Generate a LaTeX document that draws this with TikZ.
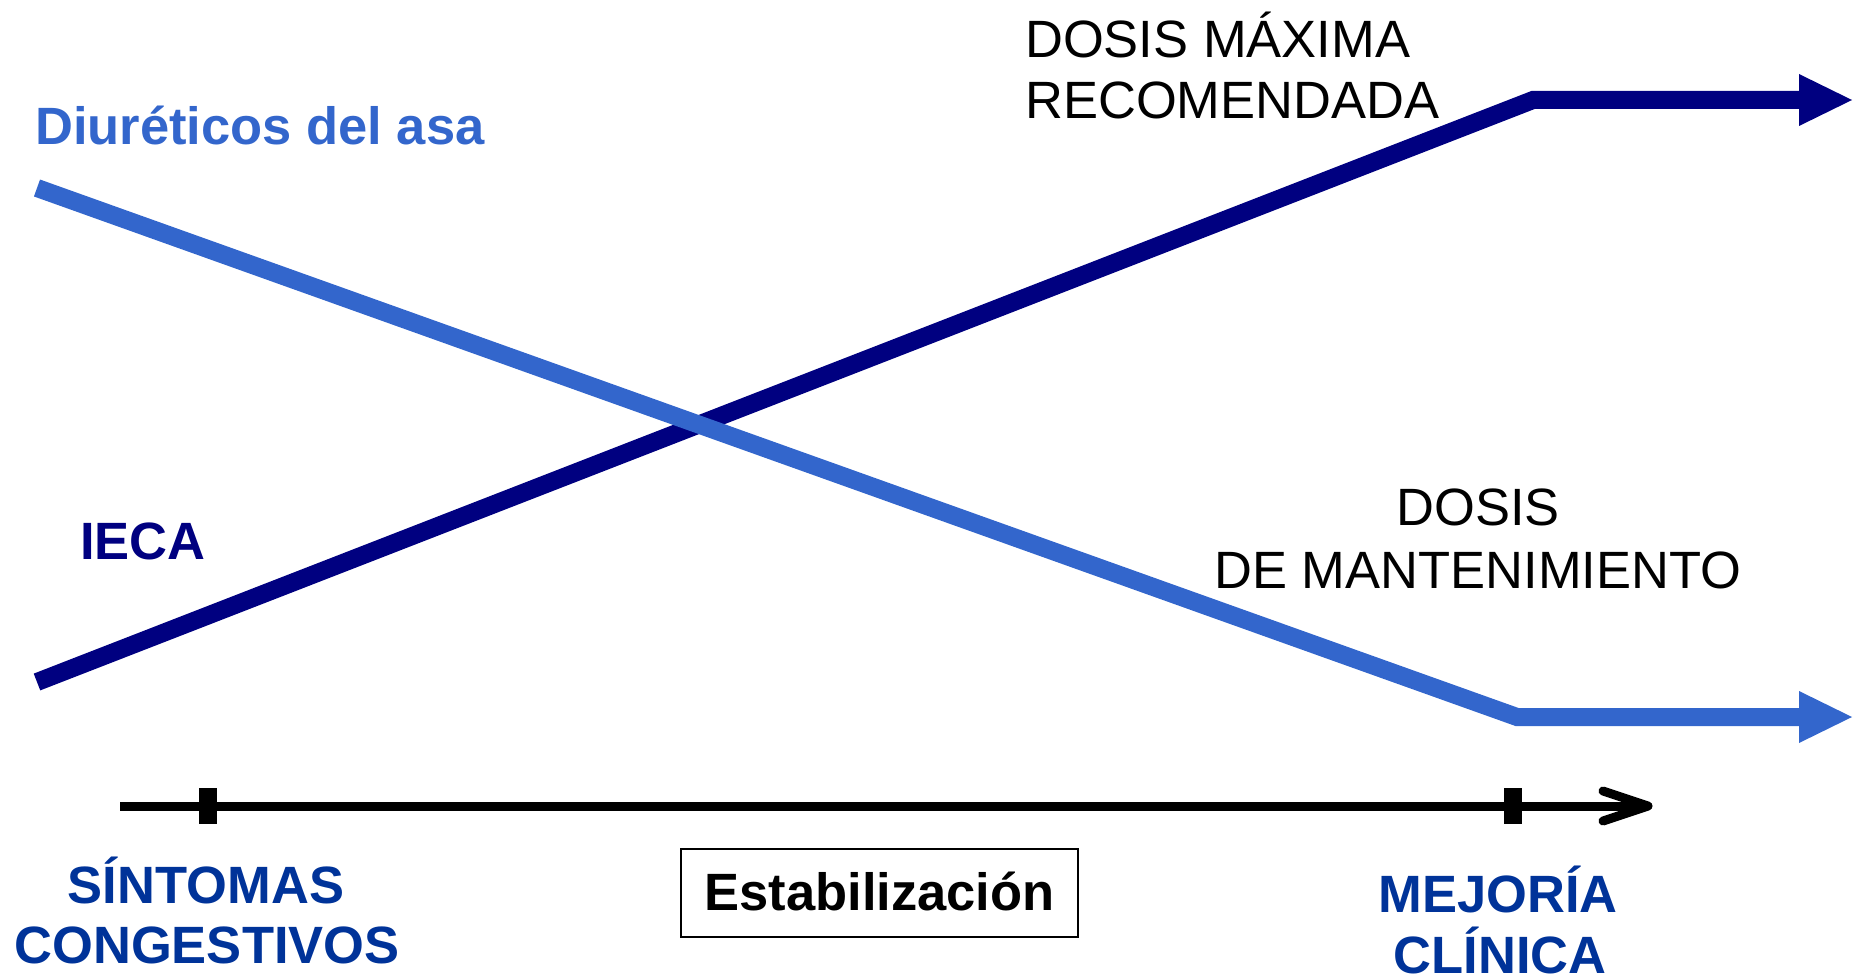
\documentclass[tikz,border=0pt]{standalone}
\usepackage{fontspec}
\setmainfont{Liberation Sans}
\definecolor{lblue}{HTML}{3366CC}
\definecolor{navy}{HTML}{000080}
\definecolor{labblue}{HTML}{003399}
\begin{document}
\begin{tikzpicture}[x=1pt,y=-1pt,
  txt/.style={inner sep=0pt, anchor=base west, font=\fontsize{52.5pt}{60pt}\selectfont},
  ctxt/.style={inner sep=0pt, anchor=base, font=\fontsize{52.5pt}{60pt}\selectfont},
  bold/.style={font=\fontsize{52.5pt}{60pt}\selectfont\bfseries},
  trend/.style={line width=18pt, line join=miter},
  axisline/.style={line width=9pt, black},
  tick/.style={fill=black}]
\useasboundingbox (0,0) rectangle (1862,979);

% IECA (dark blue) line
\coordinate (i0) at (37,682);
\coordinate (i1) at (1533,100);
\coordinate (i2) at (1799,100);
\coordinate (itop) at (1799,74);
\coordinate (ibot) at (1799,126);
\coordinate (itip) at (1852,100);
\draw[trend, navy] (i0) -- (i1) -- (i2);
\fill[navy] (itop) -- (itip) -- (ibot) -- cycle;

% Diureticos (light blue) line
\coordinate (d0) at (37,188);
\coordinate (d1) at (1517,717);
\coordinate (d2) at (1799,717);
\coordinate (dtop) at (1799,691);
\coordinate (dbot) at (1799,743);
\coordinate (dtip) at (1852,717);
\draw[trend, lblue] (d0) -- (d1) -- (d2);
\fill[lblue] (dtop) -- (dtip) -- (dbot) -- cycle;

% time axis
\coordinate (a0) at (120,806);
\coordinate (a1) at (1645,806);
\coordinate (aup) at (1603,791);
\coordinate (atip) at (1648,806);
\coordinate (adn) at (1603,821);
\draw[axisline] (a0) -- (a1);
\draw[axisline, line cap=round, line join=round] (aup) -- (atip) -- (adn);
\fill[tick] (199,788) rectangle (217,824);
\fill[tick] (1504,788) rectangle (1522,824);

% labels
\node[txt, bold, text=lblue] (diur) at (35,144) {Diuréticos del asa};
\node[txt, bold, text=navy] (ieca) at (80,559) {IECA};
\node[txt] (max1) at (1025,58) {DOSIS MÁXIMA};
\node[txt] (max2) at (1025,119) {RECOMENDADA};
\node[ctxt] (man1) at (1478,525) {DOSIS};
\node[ctxt] (man2) at (1478,588) {DE MANTENIMIENTO};
\node[ctxt, bold, text=labblue] (sin1) at (206,903) {SÍNTOMAS};
\node[ctxt, bold, text=labblue] (sin2) at (207,963) {CONGESTIVOS};
\node[draw, line width=2.2pt, inner sep=0pt, minimum width=397pt, minimum height=88pt,
      text height=40pt, text depth=6pt, font=\fontsize{52.5pt}{60pt}\selectfont\bfseries]
      (est) at (879.5,893) {Estabilización};
\node[ctxt, bold, text=labblue] (mej1) at (1498,912) {MEJORÍA};
\node[ctxt, bold, text=labblue] (mej2) at (1500,973) {CLÍNICA};
\end{tikzpicture}
\end{document}
